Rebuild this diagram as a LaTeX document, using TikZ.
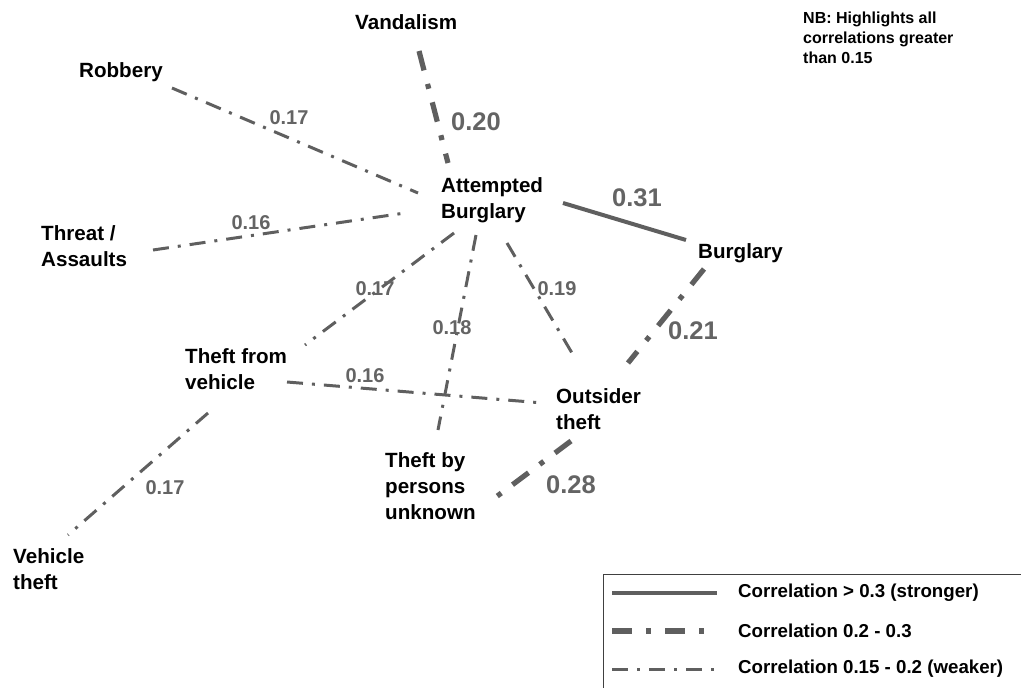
\documentclass[tikz,border=0pt]{standalone}
\usepackage{fontspec}
\setmainfont{Liberation Sans}
\usepackage{xcolor}
\usetikzlibrary{positioning,calc}
\definecolor{linegray}{HTML}{5F5F5F}
\definecolor{labelgray}{HTML}{646464}
\definecolor{boxgray}{HTML}{404040}

\begin{document}
\begin{tikzpicture}[x=1pt, y=-1pt,
    crime/.style={font=\fontsize{20.6}{26}\selectfont\bfseries, align=left, anchor=north west, inner sep=0pt},
    corr/.style={font=\fontsize{20}{24}\selectfont\bfseries, text=labelgray, inner sep=0pt},
    bigcorr/.style={font=\fontsize{25.5}{30}\selectfont\bfseries, text=labelgray, inner sep=0pt},
    strong/.style={draw=linegray, line width=4pt},
    medium/.style={draw=linegray, line width=5.2pt, dash pattern=on 20pt off 14pt on 5pt off 14pt},
    weak/.style={draw=linegray, line width=3pt, dash pattern=on 16pt off 9pt on 3pt off 9pt}]
    \useasboundingbox (0,0) rectangle (1021,688);

    % Crime types
    \node[crime] (van) at (355,14) {Vandalism};
    \node[crime] (rob) at (79,62) {Robbery};
    \node[crime] (thr) at (41,225) {Threat /\\Assaults};
    \node[crime] (att) at (441,177) {Attempted\\Burglary};
    \node[crime] (bur) at (698,243) {Burglary};
    \node[crime] (tfv) at (185,348) {Theft from\\vehicle};
    \node[crime] (out) at (556,388) {Outsider\\theft};
    \node[crime] (tby) at (385,452) {Theft by\\persons\\unknown};
    \node[crime] (vth) at (13,548) {Vehicle\\theft};

    % Note
    \node[crime, font=\fontsize{16}{20}\selectfont\bfseries] (note) at (803,11.5)
        {NB: Highlights all\\correlations greater\\than 0.15};

    % Correlations
    \draw[medium] ($(van.north west)+(64,37)$) -- ($(att.north west)+(7,-14)$);
    \draw[weak] ($(rob.north west)+(93,26)$) -- ($(att.north west)+(-23,16)$);
    \draw[weak] ($(thr.north west)+(112,25)$) -- ($(att.north west)+(-36,36)$);
    \draw[strong] ($(att.north west)+(122,26)$) -- ($(bur.north west)+(-12,-3)$);
    \draw[weak] ($(att.north west)+(13,56)$) -- ($(tfv.north west)+(120,-3)$);
    \draw[weak] ($(att.north west)+(35,58)$) -- ($(tby.north west)+(53,-22)$);
    \draw[weak] ($(att.north west)+(66,66)$) -- ($(out.north west)+(16,-35)$);
    \draw[medium] ($(bur.north west)+(6,26)$) -- ($(out.north west)+(72,-25)$);
    \draw[weak] ($(tfv.north west)+(102,34)$) -- ($(out.north west)+(-13,15)$);
    \draw[medium] ($(out.north west)+(15,53)$) -- ($(tby.north west)+(111,45)$);
    \draw[weak] ($(tfv.north west)+(23,65)$) -- ($(vth.north west)+(55,-13)$);

    % Values
    \node[bigcorr] (c-van) at (476,122) {0.20};
    \node[corr] (c-rob) at (289,118) {0.17};
    \node[corr] (c-thr) at (251,223) {0.16};
    \node[bigcorr] (c-bur) at (637,198) {0.31};
    \node[corr] (c-tfv) at (375,289) {0.17};
    \node[corr] (c-tby) at (452,328) {0.18};
    \node[corr] (c-out) at (557,289) {0.19};
    \node[bigcorr] (c-bo) at (693,331) {0.21};
    \node[corr] (c-to) at (365,376) {0.16};
    \node[bigcorr] (c-ot) at (571,485) {0.28};
    \node[corr] (c-vth) at (165,488) {0.17};

    % Legend
    \draw[boxgray, line width=1pt] (1021,574) -| (603,688);
    \foreach \lstyle/\ly/\ltext [count=\i] in {strong/593/{Correlation > 0.3 (stronger)},
                                 medium/631/{Correlation 0.2 - 0.3},
                                 weak/669/{Correlation 0.15 - 0.2 (weaker)}} {
        \draw[\lstyle] (612,\ly) -- (717,\ly);
        \node[anchor=west, inner sep=0pt, font=\fontsize{18.7}{22}\selectfont\bfseries] (leg\i) at (738,\ly) {\ltext};
    }
\end{tikzpicture}
\end{document}
